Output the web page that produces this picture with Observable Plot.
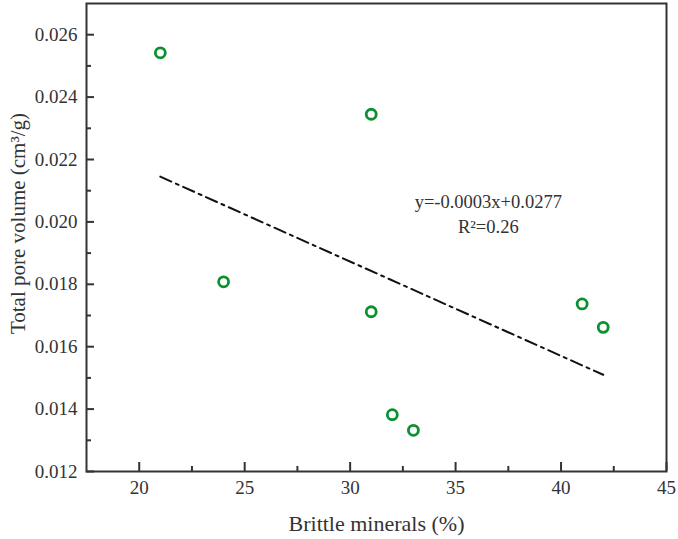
<!DOCTYPE html>
<html>
<head>
<meta charset="utf-8">
<script src="https://cdn.jsdelivr.net/npm/d3@7"></script>
<script src="https://cdn.jsdelivr.net/npm/@observablehq/plot@0.6"></script>
<style>
  html, body { margin: 0; padding: 0; background: #fff; }
  #chart { width: 678px; height: 539px; }
  #chart svg, #chart svg text { font-family: "Liberation Serif", "DejaVu Serif", serif !important; }
</style>
</head>
<body>
<div id="chart"></div>
<script>
// Data
const brittle = [21, 31, 24, 31, 41, 42, 32, 33];
const poreVolume = [0.02542, 0.02345, 0.01808, 0.01712, 0.01737, 0.01662, 0.01382, 0.01332];
const fitX = [21, 42];
const fitY = [0.02145, 0.0151];
const xMajorTicks = [20, 25, 30, 35, 40, 45];
const xMinorTicks = [22.5, 27.5, 32.5, 37.5, 42.5];
const yMajorTicks = [0.012, 0.014, 0.016, 0.018, 0.020, 0.022, 0.024, 0.026];
const yMinorTicks = [0.013, 0.015, 0.017, 0.019, 0.021, 0.023, 0.025];
const annotationLines = ["y=-0.0003x+0.0277", "R²=0.26"];
const annotationX = [36.55, 36.55];
const annotationY = [0.02045, 0.01965];
const xTitle = "Brittle minerals (%)";
const yTitle = "Total pore volume (cm³/g)";

const points = brittle.map((x, i) => ({x, y: poreVolume[i]}));
const fit = fitX.map((x, i) => ({x, y: fitY[i]}));
const notes = annotationLines.map((t, i) => ({t, x: annotationX[i], y: annotationY[i]}));

const ink = "#333";
const serif = "Liberation Serif";
const chart = Plot.plot({
  width: 678,
  height: 539,
  marginTop: 3,
  marginBottom: 68,
  marginLeft: 86,
  marginRight: 12,
  style: {background: "#fff", color: ink},
  x: {domain: [17.5, 45]},
  y: {domain: [0.012, 0.027]},
  marks: [
    // tick labels
    Plot.axisX(xMajorTicks, {tickSize: 0, tickPadding: 9, fontSize: 19, fontFamily: serif, fill: ink,
      tickFormat: d3.format("d"), label: null}),
    Plot.axisY(yMajorTicks, {tickSize: 0, tickPadding: 9, fontSize: 19, fontFamily: serif, fill: ink,
      tickFormat: d3.format(".3f"), label: null}),
    // inward ticks
    Plot.axisX(xMajorTicks, {tickSize: -9, text: null, label: null, stroke: ink, strokeWidth: 2}),
    Plot.axisX(xMinorTicks, {tickSize: -5, text: null, label: null, stroke: ink, strokeWidth: 2}),
    Plot.axisY(yMajorTicks, {tickSize: -8, text: null, label: null, stroke: ink, strokeWidth: 2}),
    Plot.axisY(yMinorTicks, {tickSize: -5, text: null, label: null, stroke: ink, strokeWidth: 2}),
    Plot.frame({stroke: ink, strokeWidth: 2}),
    // axis titles
    Plot.text([xTitle], {frameAnchor: "bottom", dy: 52, fontSize: 22, fontFamily: serif, fill: ink,
      textAnchor: "middle", lineAnchor: "middle"}),
    Plot.text([yTitle], {frameAnchor: "left", dx: -68, dy: -14, rotate: -90, fontSize: 21, fontFamily: serif, fill: ink,
      textAnchor: "middle", lineAnchor: "middle"}),
    Plot.line(fit, {x: "x", y: "y", stroke: "#111", strokeWidth: 2, strokeDasharray: "12,5,3,5"}),
    Plot.dot(points, {x: "x", y: "y", r: 5, stroke: "#0c9130", strokeWidth: 2.8, fill: "none"}),
    Plot.text(notes, {x: "x", y: "y", text: "t", fontSize: 18.5, fontFamily: serif, fill: ink,
      textAnchor: "middle", lineAnchor: "bottom"})
  ]
});
document.getElementById("chart").appendChild(chart);
</script>
</body>
</html>
